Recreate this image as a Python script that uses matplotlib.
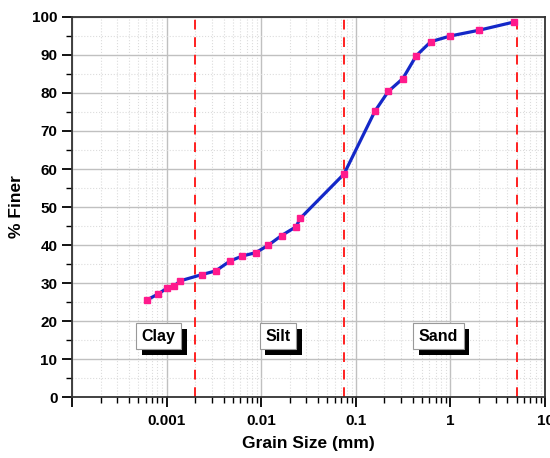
import matplotlib.pyplot as plt
import matplotlib.patheffects as pe
from matplotlib.ticker import FixedLocator, LogLocator, MultipleLocator, FuncFormatter
import numpy as np

plt.rcParams['font.family'] = ['Liberation Sans', 'DejaVu Sans']
plt.rcParams['font.weight'] = 'bold'

# grain size distribution
grain_size = [0.000614, 0.00081, 0.001, 0.00121, 0.0014, 0.00234, 0.0033, 0.00468,
              0.0063, 0.00875, 0.0118, 0.0164, 0.0233, 0.0258, 0.075, 0.159,
              0.22, 0.314, 0.435, 0.62, 1.0, 2.0, 4.75]
pct_finer = [25.5, 27.1, 28.6, 29.3, 30.6, 32.2, 33.2, 35.8, 37.1, 38.0, 39.9, 42.5,
             44.8, 47.0, 58.7, 75.2, 80.4, 83.8, 89.8, 93.5, 95.0, 96.5, 98.7]

boundaries = [0.002, 0.075, 5.0]
zone_names = ['Clay', 'Silt', 'Sand']
zone_x = [0.00082, 0.015, 0.75]
zone_y = 16

fig = plt.figure(figsize=(5.5, 4.58), dpi=100)
ax = fig.add_axes([0.131, 0.133, 0.86, 0.83])

ax.set_xscale('log')
ax.set_xlim(1e-4, 10)
ax.set_ylim(0, 100)

ax.grid(True, which='major', color='#c0c0c0', lw=1, ls='-')
ax.grid(True, which='minor', color='#dcdcdc', lw=0.8, ls=':')
ax.set_axisbelow(True)

for b in boundaries:
    ax.axvline(b, color='#ff2020', ls=(0, (5, 4)), lw=1.4, zorder=2)

ax.plot(grain_size, pct_finer, color='#1428c8', lw=2.3, marker='s', ms=4.5,
        mfc='#ff1a8c', mec='#ff1a8c', zorder=3)

for name, x in zip(zone_names, zone_x):
    t = ax.text(x, zone_y, name, ha='center', va='center', fontsize=11.5, fontweight='bold',
                zorder=5, bbox=dict(boxstyle='square,pad=0.35', fc='white', ec='#999999', lw=0.8))
    t.get_bbox_patch().set_path_effects([
        pe.SimplePatchShadow(offset=(4, -4), shadow_rgbFace='black', alpha=1.0),
        pe.Normal()])

ax.xaxis.set_major_locator(FixedLocator([1e-4, 1e-3, 1e-2, 1e-1, 1, 10]))
ax.xaxis.set_minor_locator(LogLocator(base=10, subs=np.arange(2, 10), numticks=20))
labels = {1e-3: '0.001', 1e-2: '0.01', 1e-1: '0.1', 1: '1', 10: '10'}
ax.xaxis.set_major_formatter(FuncFormatter(
    lambda v, p: next((s for k, s in labels.items() if abs(v - k) / k < 1e-6), '')))
ax.xaxis.set_minor_formatter(FuncFormatter(lambda v, p: ''))
ax.yaxis.set_major_locator(MultipleLocator(10))
ax.yaxis.set_minor_locator(MultipleLocator(5))

ax.tick_params(which='major', direction='out', length=7, width=1.3, labelsize=11)
ax.tick_params(which='minor', direction='out', length=4, width=1.0)
ax.tick_params(axis='x', pad=5)

for s in ax.spines.values():
    s.set_linewidth(1.3)
    s.set_color('#333333')

ax.set_xlabel('Grain Size (mm)', fontsize=12.5, fontweight='bold', labelpad=6)
ax.set_ylabel('% Finer', fontsize=12.5, fontweight='bold', labelpad=6)

fig.savefig('out.png', dpi=100)
